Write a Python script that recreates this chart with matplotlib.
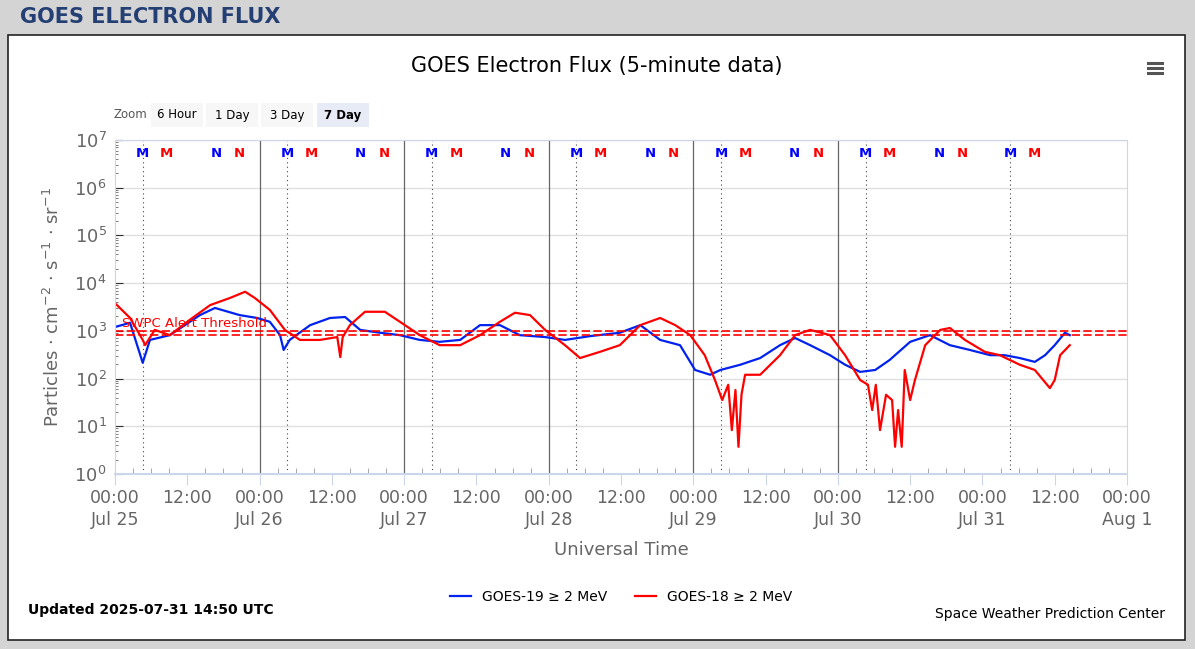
import matplotlib
matplotlib.use("Agg")
import matplotlib.pyplot as plt
import numpy as np
from matplotlib.patches import Rectangle

# hours since 2025-07-25 00:00 UTC, log10 flux
g19_hours = [0, 2.5, 4.6, 5.8, 9.1, 14.1, 16.6, 20.7, 23.6, 25.7, 27.4, 28.0, 29.0, 32.4, 35.7, 38.2,
             40.7, 44.0, 47.3, 50.6, 53.9, 57.3, 60.6, 63.9, 67.2, 71.4, 74.7, 78.9, 83.8, 87.2, 90.5,
             93.8, 96.3, 98.8, 100.5, 103.8, 107.1, 110.4, 112.9, 115.4, 118.7, 121.2, 123.7, 126.2,
             128.6, 132.0, 135.3, 138.6, 141.9, 145.3, 147.7, 150.2, 152.7, 154.4, 156.0, 157.7, 158.5]
g19_log = [3.08, 3.17, 2.33, 2.81, 2.91, 3.33, 3.48, 3.33, 3.27, 3.19, 2.91, 2.60, 2.81, 3.12, 3.27, 3.29,
           3.02, 2.96, 2.91, 2.81, 2.77, 2.81, 3.12, 3.12, 2.91, 2.87, 2.81, 2.89, 2.96, 3.12, 2.81,
           2.70, 2.18, 2.08, 2.18, 2.29, 2.43, 2.70, 2.85, 2.70, 2.49, 2.29, 2.14, 2.18,
           2.39, 2.77, 2.91, 2.70, 2.60, 2.49, 2.49, 2.43, 2.35, 2.49, 2.70, 2.96, 2.91]

g18_hours = [0, 2.5, 4.6, 5.0, 6.6, 9.1, 12.4, 15.8, 19.1, 21.6, 23.2, 25.7, 28.2, 30.7, 34.0, 36.9,
             37.4, 37.8, 39.0, 41.5, 44.8, 47.3, 50.6, 53.9, 57.3, 60.6, 63.9, 66.4, 68.9, 71.4, 74.7,
             77.2, 80.5, 83.8, 87.2, 90.5, 93.0, 95.5, 97.9, 99.6, 100.8, 101.8, 102.4, 103.0, 103.5,
             104.0, 104.6, 107.1, 110.4, 112.9, 115.4, 118.7, 121.2, 123.7, 125.0, 125.7, 126.3, 127.0,
             128.0, 129.0, 129.5, 130.0, 130.6, 131.1, 132.0, 132.8, 134.5, 137.0, 138.6, 141.1, 144.4,
             146.9, 150.2, 152.7, 155.2, 156.0, 156.9, 158.5]
g18_log = [3.58, 3.27, 2.81, 2.70, 3.02, 2.91, 3.23, 3.54, 3.69, 3.82, 3.69, 3.44, 3.02, 2.81, 2.81, 2.87,
           2.45, 2.87, 3.12, 3.40, 3.40, 3.19, 2.91, 2.70, 2.70, 2.91, 3.19, 3.38, 3.33, 3.02, 2.70,
           2.43, 2.56, 2.70, 3.12, 3.27, 3.12, 2.91, 2.49, 1.97, 1.55, 1.87, 0.92, 1.76, 0.57,
           1.66, 2.08, 2.08, 2.49, 2.91, 3.02, 2.91, 2.49, 1.97, 1.87, 1.34, 1.87, 0.92,
           1.66, 1.55, 0.57, 1.34, 0.57, 2.18, 1.55, 1.97, 2.70, 3.02, 3.06, 2.81, 2.56,
           2.49, 2.29, 2.18, 1.80, 1.97, 2.49, 2.70]

threshold = 1000
tick_labels = ["00:00\nJul 25", "12:00", "00:00\nJul 26", "12:00", "00:00\nJul 27", "12:00",
               "00:00\nJul 28", "12:00", "00:00\nJul 29", "12:00", "00:00\nJul 30", "12:00",
               "00:00\nJul 31", "12:00", "00:00\nAug 1"]
marker_hours = [4.6, 8.6, 16.8, 20.7]
marker_text = ["M", "M", "N", "N"]
marker_colors = ["#0000ff", "#ff0000", "#0000ff", "#ff0000"]
data_end_hour = 158.5

W, H = 1195, 649
fig = plt.figure(figsize=(W/100, H/100), dpi=100)
fig.patch.set_facecolor("#d4d4d4")
fig.add_artist(Rectangle((8/W, 1-640/H), 1177/W, 605/H, transform=fig.transFigure,
                         facecolor="white", edgecolor="#222222", lw=1.2, zorder=-10))
fig.text(20/W, 1-17/H, "GOES ELECTRON FLUX", fontsize=15, fontweight="bold", color="#243f73",
         va="center", ha="left")
fig.text(597/W, 1-66/H, "GOES Electron Flux (5-minute data)", fontsize=15, ha="center", va="center")
for dy in (-5, 0, 5):
    fig.add_artist(plt.Line2D([1148/W, 1162/W], [1-(68+dy)/H]*2, color="#555555", lw=2.2))
fig.text(113/W, 1-115/H, "Zoom", fontsize=8.5, color="#555555", va="center")
btns = [("6 Hour", 151, 52), ("1 Day", 206, 52), ("3 Day", 261, 52), ("7 Day", 317, 52)]
for label, bx, bw in btns:
    fc = "#e6ebf5" if label == "7 Day" else "#f7f7f7"
    fig.add_artist(Rectangle((bx/W, 1-127/H), bw/W, 24/H, transform=fig.transFigure,
                             facecolor=fc, edgecolor="none", zorder=-5))
    fig.text((bx+bw/2)/W, 1-115/H, label, fontsize=8.5, ha="center", va="center",
             fontweight="bold" if label == "7 Day" else "normal")

ax = fig.add_axes([115/W, 1-474/H, 1012/W, 334/H])
ax.set_yscale("log")
ax.set_ylim(1, 1e7)
ax.set_xlim(0, 168)
for d in range(1, 6):
    ax.axvline(24*d, color="#666666", lw=0.9)
for d in range(7):
    ax.axvline(24*d+4.6, color="#444444", lw=0.8, ls=(0, (1, 3)))
ax.grid(axis="y", which="major", color="#e0e0e0", lw=1)
ax.set_axisbelow(True)
ax.plot(g19_hours, 10**np.array(g19_log), color="#0022ee", lw=1.6, label="GOES-19 ≥ 2 MeV")
ax.plot(g18_hours, 10**np.array(g18_log), color="#ff0000", lw=1.6, label="GOES-18 ≥ 2 MeV")
ax.axhline(threshold, color="#ff0000", lw=1.2, ls=(0, (5, 2)))
ax.axhline(threshold*0.82, color="#ff0000", lw=1.2, ls=(0, (5, 2)))
ax.text(1.2, threshold*1.02, "SWPC Alert Threshold", color="#ff0000", fontsize=9.5, va="bottom")
for d in range(7):
    for h, t, c in zip(marker_hours, marker_text, marker_colors):
        if 24*d+h < data_end_hour:
            ax.text(24*d+h, 5.2e6, t, color=c, fontsize=9.5, fontweight="bold", ha="center", va="center")
ax.set_xticks(np.arange(0, 169, 12))
ax.set_xticklabels(tick_labels, fontsize=12.5, color="#666666", linespacing=1.3)
ax.set_xticks(np.arange(0, 169, 3), minor=True)
ax.tick_params(axis="x", which="major", length=8, color="#ccd6eb", pad=3)
ax.tick_params(axis="x", which="minor", length=4, color="#999999", direction="in")
ax.tick_params(axis="y", which="both", labelsize=13, colors="#666666", direction="in", pad=6)
ax.yaxis.set_tick_params(which="major", length=6, color="#333333")
for s in ["top", "right", "left"]:
    ax.spines[s].set_color("#ccd6eb")
ax.spines["bottom"].set_color("#ccd6eb")
ax.spines["bottom"].set_linewidth(1.5)
ax.set_xlabel("Universal Time", fontsize=13, color="#666666", labelpad=8)
ax.set_ylabel("Particles · cm$^{-2}$ · s$^{-1}$ · sr$^{-1}$", fontsize=13, color="#666666", labelpad=8)
ax.legend(loc="upper center", bbox_to_anchor=(0.5, -0.31), ncol=2, frameon=False, fontsize=10,
          handlelength=1.5)
fig.text(28/W, 1-610/H, "Updated 2025-07-31 14:50 UTC", fontsize=10, fontweight="bold", va="center")
fig.text(1165/W, 1-614/H, "Space Weather Prediction Center", fontsize=10, ha="right", va="center")
fig.savefig("out.png", dpi=100)
